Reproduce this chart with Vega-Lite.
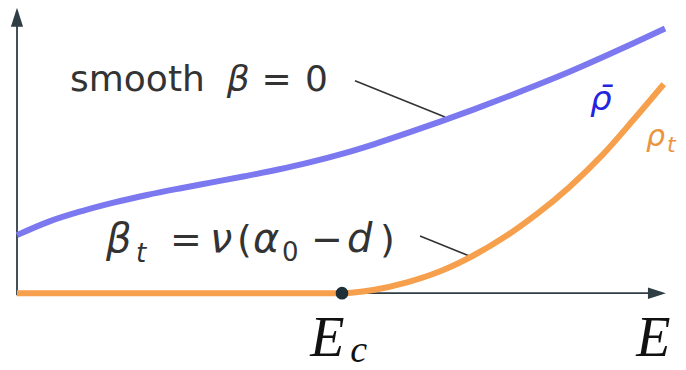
{
  "$schema": "https://vega.github.io/schema/vega-lite/v6.json",
  "width": 686,
  "height": 370,
  "autosize": {"type": "fit", "contains": "padding"},
  "padding": 0,
  "background": "white",
  "config": {"view": {"stroke": null}},
  "datasets": {
    "rhobar": [
      {"E": 0.0, "rho": 0.59}, {"E": 0.1, "rho": 0.73}, {"E": 0.2, "rho": 0.835},
      {"E": 0.3, "rho": 0.923}, {"E": 0.4, "rho": 0.998}, {"E": 0.5, "rho": 1.064},
      {"E": 0.6, "rho": 1.126}, {"E": 0.7, "rho": 1.188}, {"E": 0.8, "rho": 1.254},
      {"E": 0.9, "rho": 1.329}, {"E": 1.0, "rho": 1.416}, {"E": 1.1, "rho": 1.516},
      {"E": 1.2, "rho": 1.626}, {"E": 1.3, "rho": 1.741}, {"E": 1.4, "rho": 1.861},
      {"E": 1.5, "rho": 1.986}, {"E": 1.6, "rho": 2.116}, {"E": 1.7, "rho": 2.251},
      {"E": 1.8, "rho": 2.396}, {"E": 1.9, "rho": 2.546}, {"E": 1.994, "rho": 2.69}
    ],
    "rhot": [
      {"E": 0.0, "rho": 0}, {"E": 0.5, "rho": 0}, {"E": 1.0, "rho": 0},
      {"E": 1.1, "rho": 0.035}, {"E": 1.2, "rho": 0.11}, {"E": 1.3, "rho": 0.22},
      {"E": 1.4, "rho": 0.375}, {"E": 1.5, "rho": 0.57}, {"E": 1.6, "rho": 0.805},
      {"E": 1.7, "rho": 1.08}, {"E": 1.8, "rho": 1.4}, {"E": 1.9, "rho": 1.775},
      {"E": 1.99, "rho": 2.125}
    ],
    "axes": [
      {"E": 0, "rho": -0.02, "E2": 0, "rho2": 2.76},
      {"E": 0, "rho": 0, "E2": 1.95, "rho2": 0}
    ],
    "arrows": [
      {"E": 0, "rho": 2.805, "dir": "up"},
      {"E": 1.969, "rho": 0, "dir": "right"}
    ],
    "leaders": [
      {"E": 1.04, "rho": 2.16, "E2": 1.317, "rho2": 1.79},
      {"E": 1.24, "rho": 0.58, "E2": 1.394, "rho2": 0.375}
    ],
    "critical": [{"E": 1.0, "rho": 0}],
    "labels": [
      {"E": 0.1631, "rho": 2.05, "text": "smooth", "kind": "sans"},
      {"E": 0.645, "rho": 2.05, "text": "β", "kind": "italic"},
      {"E": 0.752, "rho": 2.05, "text": "=", "kind": "sans"},
      {"E": 0.886, "rho": 2.05, "text": "0", "kind": "sans"},
      {"E": 0.2738, "rho": 0.42, "text": "β", "kind": "italic2"},
      {"E": 0.3662, "rho": 0.32, "text": "t", "kind": "subItalic"},
      {"E": 0.4708, "rho": 0.42, "text": "=", "kind": "sans2"},
      {"E": 0.5938, "rho": 0.42, "text": "ν", "kind": "italic2"},
      {"E": 0.6769, "rho": 0.42, "text": "(", "kind": "sans2"},
      {"E": 0.7262, "rho": 0.42, "text": "α", "kind": "italic2"},
      {"E": 0.8154, "rho": 0.33, "text": "0", "kind": "subSans"},
      {"E": 0.9046, "rho": 0.42, "text": "−", "kind": "sans2"},
      {"E": 1.015, "rho": 0.42, "text": "d", "kind": "italic2"},
      {"E": 1.117, "rho": 0.42, "text": ")", "kind": "sans2"},
      {"E": 1.763, "rho": 1.86, "text": "ρ̄", "kind": "rhobar"},
      {"E": 1.935, "rho": 1.5, "text": "ρ", "kind": "rhot"},
      {"E": 2.0, "rho": 1.44, "text": "t", "kind": "rhotSub"},
      {"E": 0.902, "rho": -0.64, "text": "E", "kind": "serif"},
      {"E": 1.025, "rho": -0.7, "text": "c", "kind": "serifSub"},
      {"E": 1.905, "rho": -0.64, "text": "E", "kind": "serif"}
    ]
  },
  "encoding": {
    "x": {"field": "E", "type": "quantitative", "scale": {"domain": [-0.05231, 2.05846], "nice": false, "zero": false}, "axis": null},
    "y": {"field": "rho", "type": "quantitative", "scale": {"domain": [-0.72, 2.98], "nice": false, "zero": false}, "axis": null}
  },
  "layer": [
    {
      "data": {"name": "axes"},
      "mark": {"type": "rule", "color": "#2f3d44", "strokeWidth": 1.8},
      "encoding": {"x2": {"field": "E2"}, "y2": {"field": "rho2"}}
    },
    {
      "data": {"name": "arrows"},
      "transform": [{"filter": "datum.dir === 'up'"}],
      "mark": {"type": "point", "shape": "M0,-1L0.64,1L-0.64,1Z", "size": 361, "filled": true, "color": "#2f3d44", "opacity": 1, "strokeWidth": 0},
      "encoding": {}
    },
    {
      "data": {"name": "arrows"},
      "transform": [{"filter": "datum.dir === 'right'"}],
      "mark": {"type": "point", "shape": "M1,0L-1,-0.64L-1,0.64Z", "size": 324, "filled": true, "color": "#2f3d44", "opacity": 1, "strokeWidth": 0},
      "encoding": {}
    },
    {
      "data": {"name": "leaders"},
      "mark": {"type": "rule", "color": "#333333", "strokeWidth": 1.6},
      "encoding": {"x2": {"field": "E2"}, "y2": {"field": "rho2"}}
    },
    {
      "data": {"name": "rhobar"},
      "mark": {"type": "line", "color": "#7b78f0", "strokeWidth": 6, "interpolate": "monotone"},
      "encoding": {}
    },
    {
      "data": {"name": "rhot"},
      "mark": {"type": "line", "color": "#f6a04d", "strokeWidth": 6, "interpolate": "monotone"},
      "encoding": {}
    },
    {
      "data": {"name": "critical"},
      "mark": {"type": "point", "shape": "circle", "size": 160, "filled": true, "color": "#1f2f38", "opacity": 1},
      "encoding": {}
    },
    {
      "data": {"name": "labels"},
      "transform": [{"filter": "datum.kind === 'sans'"}],
      "mark": {"type": "text", "align": "left", "baseline": "alphabetic", "font": "DejaVu Sans", "fontSize": 36, "color": "#333333"},
      "encoding": {"text": {"field": "text"}}
    },
    {
      "data": {"name": "labels"},
      "transform": [{"filter": "datum.kind === 'italic'"}],
      "mark": {"type": "text", "align": "left", "baseline": "alphabetic", "font": "DejaVu Sans", "fontStyle": "italic", "fontSize": 36, "color": "#333333"},
      "encoding": {"text": {"field": "text"}}
    },
    {
      "data": {"name": "labels"},
      "transform": [{"filter": "datum.kind === 'sans2'"}],
      "mark": {"type": "text", "align": "left", "baseline": "alphabetic", "font": "DejaVu Sans", "fontSize": 38, "color": "#333333"},
      "encoding": {"text": {"field": "text"}}
    },
    {
      "data": {"name": "labels"},
      "transform": [{"filter": "datum.kind === 'italic2'"}],
      "mark": {"type": "text", "align": "left", "baseline": "alphabetic", "font": "DejaVu Sans", "fontStyle": "italic", "fontSize": 40, "color": "#333333"},
      "encoding": {"text": {"field": "text"}}
    },
    {
      "data": {"name": "labels"},
      "transform": [{"filter": "datum.kind === 'subItalic'"}],
      "mark": {"type": "text", "align": "left", "baseline": "alphabetic", "font": "DejaVu Sans", "fontStyle": "italic", "fontSize": 26, "color": "#333333"},
      "encoding": {"text": {"field": "text"}}
    },
    {
      "data": {"name": "labels"},
      "transform": [{"filter": "datum.kind === 'subSans'"}],
      "mark": {"type": "text", "align": "left", "baseline": "alphabetic", "font": "DejaVu Sans", "fontSize": 26, "color": "#333333"},
      "encoding": {"text": {"field": "text"}}
    },
    {
      "data": {"name": "labels"},
      "transform": [{"filter": "datum.kind === 'rhobar'"}],
      "mark": {"type": "text", "align": "left", "baseline": "alphabetic", "font": "DejaVu Sans", "fontStyle": "italic", "fontSize": 34, "color": "#2424e0"},
      "encoding": {"text": {"field": "text"}}
    },
    {
      "data": {"name": "labels"},
      "transform": [{"filter": "datum.kind === 'rhot'"}],
      "mark": {"type": "text", "align": "left", "baseline": "alphabetic", "font": "DejaVu Sans", "fontStyle": "italic", "fontSize": 30, "color": "#eb9440"},
      "encoding": {"text": {"field": "text"}}
    },
    {
      "data": {"name": "labels"},
      "transform": [{"filter": "datum.kind === 'rhotSub'"}],
      "mark": {"type": "text", "align": "left", "baseline": "alphabetic", "font": "DejaVu Sans", "fontStyle": "italic", "fontSize": 22, "color": "#eb9440"},
      "encoding": {"text": {"field": "text"}}
    },
    {
      "data": {"name": "labels"},
      "transform": [{"filter": "datum.kind === 'serif'"}],
      "mark": {"type": "text", "align": "left", "baseline": "alphabetic", "font": "Liberation Serif", "fontStyle": "italic", "fontSize": 56, "color": "#111111"},
      "encoding": {"text": {"field": "text"}}
    },
    {
      "data": {"name": "labels"},
      "transform": [{"filter": "datum.kind === 'serifSub'"}],
      "mark": {"type": "text", "align": "left", "baseline": "alphabetic", "font": "Liberation Serif", "fontStyle": "italic", "fontSize": 38, "color": "#111111"},
      "encoding": {"text": {"field": "text"}}
    }
  ]
}
